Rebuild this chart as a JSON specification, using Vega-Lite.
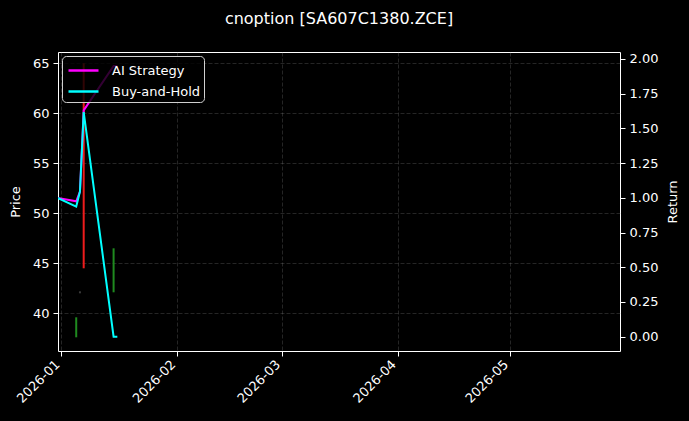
{
  "$schema": "https://vega.github.io/schema/vega-lite/v6.json",
  "width": 562,
  "height": 299,
  "autosize": {"type": "none"},
  "padding": {"left": 58, "top": 52, "right": 69, "bottom": 70},
  "background": "#000000",
  "title": {
    "text": "cnoption [SA607C1380.ZCE]",
    "color": "#ffffff",
    "font": "DejaVu Sans",
    "fontSize": 16,
    "fontWeight": "normal",
    "anchor": "middle",
    "frame": "group",
    "offset": 25
  },
  "config": {
    "view": {"stroke": "#ffffff", "strokeWidth": 1},
    "font": "DejaVu Sans",
    "axis": {
      "domain": false,
      "labelColor": "#ffffff",
      "titleColor": "#ffffff",
      "tickColor": "#ffffff",
      "labelFont": "DejaVu Sans",
      "titleFont": "DejaVu Sans",
      "labelFontSize": 13,
      "titleFontSize": 13,
      "titleFontWeight": "normal",
      "tickSize": 5,
      "labelPadding": 4,
      "gridColor": "#8a8a8a",
      "gridOpacity": 0.45,
      "gridDash": [4, 2],
      "gridWidth": 0.6
    },
    "legend": {
      "orient": "top-left",
      "offset": 4,
      "zindex": 2,
      "fillColor": "#000000cc",
      "strokeColor": "#d0d0d0",
      "cornerRadius": 4,
      "padding": 3,
      "labelColor": "#ffffff",
      "labelFont": "DejaVu Sans",
      "labelFontSize": 13,
      "symbolType": "M-1.5,0L1.5,0",
      "symbolStrokeWidth": 2.5,
      "symbolSize": 400,
      "symbolOffset": 7,
      "rowPadding": 2,
      "labelOffset": 17
    }
  },
  "datasets": {
    "candles": [
      {"date": "2026-01-05", "low": 37.6, "high": 39.6, "dir": "up"},
      {"date": "2026-01-06", "low": 42.0, "high": 42.2, "dir": "flat"},
      {"date": "2026-01-07", "low": 44.5, "high": 65.0, "dir": "down"},
      {"date": "2026-01-15", "low": 42.1, "high": 46.5, "dir": "up"}
    ],
    "returns": [
      {"date": "2025-12-31", "series": "AI Strategy", "ret": 1.0},
      {"date": "2026-01-05", "series": "AI Strategy", "ret": 0.975},
      {"date": "2026-01-06", "series": "AI Strategy", "ret": 1.045},
      {"date": "2026-01-07", "series": "AI Strategy", "ret": 1.63},
      {"date": "2026-01-15", "series": "AI Strategy", "ret": 1.95},
      {"date": "2026-01-16", "series": "AI Strategy", "ret": 1.95},
      {"date": "2025-12-31", "series": "Buy-and-Hold", "ret": 1.0},
      {"date": "2026-01-05", "series": "Buy-and-Hold", "ret": 0.937},
      {"date": "2026-01-06", "series": "Buy-and-Hold", "ret": 1.045},
      {"date": "2026-01-07", "series": "Buy-and-Hold", "ret": 1.617},
      {"date": "2026-01-15", "series": "Buy-and-Hold", "ret": 0.0},
      {"date": "2026-01-16", "series": "Buy-and-Hold", "ret": 0.0}
    ]
  },
  "layer": [
    {
      "data": {"name": "candles"},
      "mark": {"type": "rule", "strokeWidth": 2, "clip": true},
      "encoding": {
        "x": {
          "field": "date",
          "type": "temporal",
          "scale": {
            "type": "utc",
            "domain": [
              {"year": 2025, "month": 12, "date": 31, "hours": 3, "utc": true},
              {"year": 2026, "month": 5, "date": 30, "hours": 12, "utc": true}
            ]
          },
          "axis": {
            "title": null,
            "values": [
              {"year": 2026, "month": 1, "date": 1, "utc": true},
              {"year": 2026, "month": 2, "date": 1, "utc": true},
              {"year": 2026, "month": 3, "date": 1, "utc": true},
              {"year": 2026, "month": 4, "date": 1, "utc": true},
              {"year": 2026, "month": 5, "date": 1, "utc": true}
            ],
            "format": "%Y-%m",
            "labelAngle": -45,
            "labelAlign": "right",
            "labelBaseline": "middle",
            "labelOffset": -4,
            "labelPadding": 6
          }
        },
        "y": {
          "field": "low",
          "type": "quantitative",
          "scale": {"domain": [36.23, 66.13], "nice": false, "zero": false},
          "axis": {"title": "Price", "orient": "left", "values": [40, 45, 50, 55, 60, 65], "titlePadding": 10}
        },
        "y2": {"field": "high"},
        "color": {
          "condition": [
            {"test": "datum.dir === 'up'", "value": "#1f8a1f"},
            {"test": "datum.dir === 'down'", "value": "#ee1c1c"}
          ],
          "value": "#3a3a3a"
        }
      }
    },
    {
      "data": {"name": "returns"},
      "mark": {"type": "line", "strokeWidth": 2, "clip": true},
      "encoding": {
        "x": {"field": "date", "type": "temporal"},
        "y": {
          "field": "ret",
          "type": "quantitative",
          "scale": {"domain": [-0.103, 2.05], "nice": false, "zero": false},
          "axis": {
            "title": "Return",
            "orient": "right",
            "values": [0, 0.25, 0.5, 0.75, 1, 1.25, 1.5, 1.75, 2],
            "format": ".2f",
            "titleAngle": 270,
            "titleBaseline": "top",
            "titlePadding": 9
          }
        },
        "color": {
          "field": "series",
          "type": "nominal",
          "scale": {"domain": ["AI Strategy", "Buy-and-Hold"], "range": ["#ff00ff", "#00ffff"]},
          "legend": {"title": null, "zindex": 2}
        }
      }
    }
  ],
  "resolve": {"scale": {"y": "independent"}}
}
